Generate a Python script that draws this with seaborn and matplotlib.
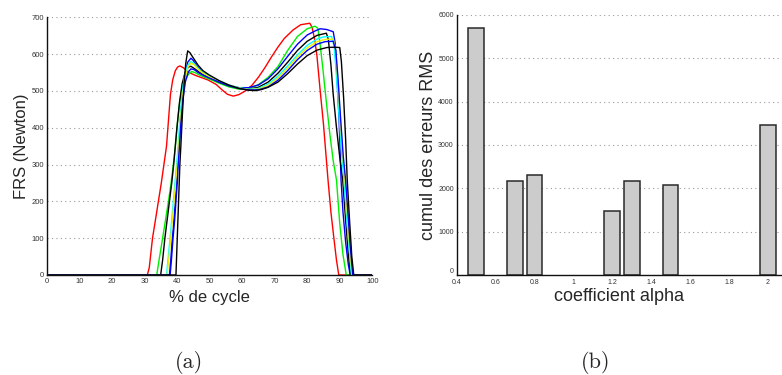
"""
Two-panel figure: (a) ground reaction force curves over the gait cycle,
(b) cumulated RMS error for each alpha coefficient.
"""

import pandas as pd
import matplotlib
matplotlib.use("Agg")
import matplotlib.pyplot as plt
import seaborn as sns

# ---- panel (a): FRS curves ----
red_x = [0, 30.9, 31.5, 32.5, 33.5, 34.3, 35.2, 36, 36.8, 37.4, 38, 38.7, 39.5, 40.2, 40.9, 42, 43,
         44, 45.5, 47, 49.5, 52, 54, 55.5, 57.3, 59, 61, 63, 65, 67, 69, 71, 73, 75.7, 78, 80.8,
         81.5, 82.3, 83, 84, 85, 86.4, 87.3, 88.2, 89, 89.7, 100]
red_y = [0, 0, 20, 100, 155, 200, 250, 300, 350, 420, 490, 530, 555, 565, 568, 563, 555,
         549, 543, 538, 530, 518, 502, 491, 486, 490, 500, 515, 537, 563, 592, 619, 643, 666, 680, 684,
         673, 640, 595, 500, 410, 258, 170, 100, 40, 0, 0]

green_x = [0, 33.8, 34.5, 35.6, 36.5, 37.4, 38.2, 38.9, 39.4, 40, 40.7, 41.5, 42.5, 43.5, 44.5, 45.5,
           47, 50, 53, 56, 59, 62, 65, 68, 71, 74, 77, 80, 82.4, 83.3, 84, 85, 86, 87, 88, 89, 90, 91,
           92, 100]
green_y = [0, 0, 40, 100, 150, 200, 250, 300, 340, 400, 460, 505, 530, 545, 553, 550,
           543, 532, 521, 511, 505, 507, 517, 537, 566, 610, 648, 669, 676, 670, 625, 545, 460, 380, 310,
           258, 140, 55, 0, 0]

blue1_x = [0, 37.7, 38.1, 38.6, 39.1, 39.5, 39.9, 40.2, 40.5, 41, 41.6, 42.3, 43.3, 44.3, 45, 46, 48,
           50, 53, 56, 59, 62, 65, 68, 71, 74, 77, 80, 82.4, 84, 86, 88, 88.6, 89.2, 89.8, 90.4, 91,
           91.8, 92.6, 93.2, 100]
blue1_y = [0, 0, 40, 100, 150, 200, 250, 300, 340, 410, 480, 540, 578, 589, 583, 570, 550,
           538, 525, 515, 509, 509, 516, 533, 560, 594, 627, 652, 663, 669, 667, 661, 630, 530, 420, 258,
           170, 90, 30, 0, 0]

black1_x = [0, 35, 35.6, 36.3, 37, 37.7, 38.4, 39, 39.4, 40, 40.8, 41.6, 42.5, 43.5, 44.3, 45.5, 47,
            50, 53, 56, 59, 62, 65, 68, 71, 74, 77, 80, 83, 85.9, 86.5, 87.3, 88, 89, 90, 90.9, 91.8,
            92.6, 93.3, 100]
black1_y = [0, 0, 40, 100, 150, 200, 250, 300, 340, 400, 470, 520, 550, 565, 567, 560, 550,
            537, 524, 514, 508, 505, 510, 524, 548, 578, 610, 635, 651, 657, 640, 570, 490, 400, 320,
            258, 150, 60, 0, 0]

cyan_x = [0, 36.8, 37.3, 37.9, 38.4, 38.9, 39.4, 39.9, 40.3, 40.9, 41.6, 42.3, 43.2, 44.3, 45.2,
          46.5, 48, 50, 53, 56, 59, 62, 65, 68, 71, 74, 77, 80, 83, 85, 87.5, 88.3, 89, 89.8, 90.6,
          91.3, 92, 92.8, 93.6, 100]
cyan_y = [0, 0, 45, 100, 150, 200, 250, 300, 340, 420, 490, 540, 568, 580, 575,
          562, 550, 540, 527, 516, 509, 505, 507, 519, 540, 568, 598, 624, 641, 647, 648, 620, 540, 430,
          330, 258, 170, 80, 0, 0]

yellow_x = [0, 37.0, 37.5, 38.1, 38.6, 39.1, 39.6, 40.1, 40.5, 41.1, 41.8, 42.5, 43.4, 44.3, 45.3,
            46.5, 48, 50, 53, 56, 59, 62, 65, 68, 71, 74, 77, 80, 83, 85.5, 88, 88.7, 89.4, 90.2, 91,
            91.6, 92.3, 93, 93.8, 100]
yellow_y = [0, 0, 45, 100, 150, 200, 250, 300, 340, 420, 490, 535, 565, 576, 571,
            559, 548, 538, 526, 515, 508, 504, 505, 515, 535, 562, 592, 617, 634, 640, 641, 615, 530,
            420, 320, 258, 170, 80, 0, 0]

blue2_x = [0, 37.9, 38.3, 38.8, 39.3, 39.7, 40.1, 40.4, 40.7, 41.2, 41.8, 42.6, 43.5, 44.3, 45.3,
           46.5, 48, 50, 53, 56, 59, 62, 65, 68, 71, 74, 77, 80, 83, 85.5, 88, 88.8, 89.5, 90.3, 91.1,
           91.8, 92.5, 93.2, 94, 100]
blue2_y = [0, 0, 40, 100, 150, 200, 250, 300, 340, 410, 475, 525, 552, 560, 558,
           550, 543, 535, 524, 514, 507, 503, 503, 511, 529, 555, 585, 610, 627, 634, 635, 610, 530, 420,
           320, 258, 170, 80, 0, 0]

black2_x = [0, 39.7, 40.1, 40.5, 40.9, 41.2, 41.7, 42.2, 42.7, 43.3, 44, 45, 46.5, 48, 50, 53, 56,
            59, 62, 64, 66, 68, 71, 74, 77, 80, 83, 86, 88.5, 90, 90.5, 91.2, 91.8, 92.3, 93, 93.7,
            94.3, 100]
black2_y = [0, 0, 100, 200, 300, 350, 440, 520, 575, 609, 604, 590, 570, 555, 543, 528, 516,
            507, 502, 501, 504, 510, 524, 547, 573, 596, 611, 618, 619, 618, 580, 480, 370, 258, 150, 50,
            0, 0]

curve_names = ["rouge", "vert", "bleu 1", "noir 1", "cyan", "jaune", "bleu 2", "noir 2"]
curve_colors = ["#ff0000", "#00ee00", "#0000ff", "#000000", "#00ffff", "#f0f000", "#0000ff", "#000000"]

# ---- panel (b): cumulated RMS error ----
alpha = [0.5, 0.7, 0.8, 1.2, 1.3, 1.5, 2.0]
rms_sum = [5700, 2180, 2320, 1480, 2180, 2080, 3450]

frs_ticks = [0, 100, 200, 300, 400, 500, 600, 700]
cycle_ticks = [0, 10, 20, 30, 40, 50, 60, 70, 80, 90, 100]
rms_ticks = [0, 1000, 2000, 3000, 4000, 5000, 6000]
alpha_ticks = [0.4, 0.6, 0.8, 1.0, 1.2, 1.4, 1.6, 1.8, 2.0]
alpha_labels = ["0.4", "0.6", "0.8", "1", "1.2", "1.4", "1.6", "1.8", "2"]


def style_axis(ax, tick_size):
    sns.despine(ax=ax, top=True, right=True)
    for side in ("left", "bottom"):
        ax.spines[side].set_color("#111111")
        ax.spines[side].set_linewidth(1.0)
    ax.grid(False)
    ax.yaxis.grid(True, color="#999999", linestyle=(0, (1, 3)), linewidth=0.8)
    ax.set_axisbelow(True)
    ax.tick_params(direction="in", length=2, width=0.6, colors="#333333",
                   labelsize=tick_size, pad=2)


sns.set_style("white")
plt.rcParams["font.family"] = ["Liberation Sans", "DejaVu Sans"]

fig = plt.figure(figsize=(7.82, 3.75), dpi=100)
ax_a = fig.add_axes([0.0597, 0.2667, 0.4164, 0.687])
ax_b = fig.add_axes([0.5838, 0.2659, 0.4162, 0.695])

# panel (a)
xs = [red_x, green_x, blue1_x, black1_x, cyan_x, yellow_x, blue2_x, black2_x]
ys = [red_y, green_y, blue1_y, black1_y, cyan_y, yellow_y, blue2_y, black2_y]
frames = []
for name, cx, cy in zip(curve_names, xs, ys):
    frames.append(pd.DataFrame({"cycle": cx, "frs": cy, "courbe": name}))
df = pd.concat(frames, ignore_index=True)

sns.lineplot(data=df, x="cycle", y="frs", hue="courbe", hue_order=curve_names,
             palette=dict(zip(curve_names, curve_colors)), estimator=None,
             sort=False, linewidth=1.0, legend=False, ax=ax_a)
ax_a.set_xlim(0, 100)
ax_a.set_ylim(0, 700)
ax_a.set_xticks(cycle_ticks)
ax_a.set_yticks(frs_ticks)
style_axis(ax_a, 5.5)
ax_a.set_xlabel("% de cycle", fontsize=12, labelpad=4)
ax_a.set_ylabel("FRS (Newton)", fontsize=12, labelpad=2)

# panel (b)
sns.barplot(x=alpha, y=rms_sum, native_scale=True, width=0.8, color="#cccccc",
            saturation=1, edgecolor="#2a2a2a", linewidth=1.1, ax=ax_b)
ax_b.set_xlim(0.4, 2.072)
ax_b.set_ylim(0, 6000)
ax_b.set_xticks(alpha_ticks)
ax_b.set_xticklabels(alpha_labels)
ax_b.set_yticks(rms_ticks)
style_axis(ax_b, 5)
ax_b.tick_params(axis="x", pad=2.5)
# the "0" of the y axis sits just above the x axis, as in the original
ax_b.get_yticklabels()[0].set_va("bottom")
ax_b.set_xlabel("coefficient alpha", fontsize=13, labelpad=1.5)
ax_b.set_ylabel("cumul des erreurs RMS", fontsize=13, labelpad=1)

fig.text(189 / 782, 1 - 363 / 375, "(a)", family="cmr10", fontsize=16, ha="center", va="center")
fig.text(596 / 782, 1 - 363 / 375, "(b)", family="cmr10", fontsize=16, ha="center", va="center")

fig.savefig("out.png", dpi=100)
plt.close(fig)
